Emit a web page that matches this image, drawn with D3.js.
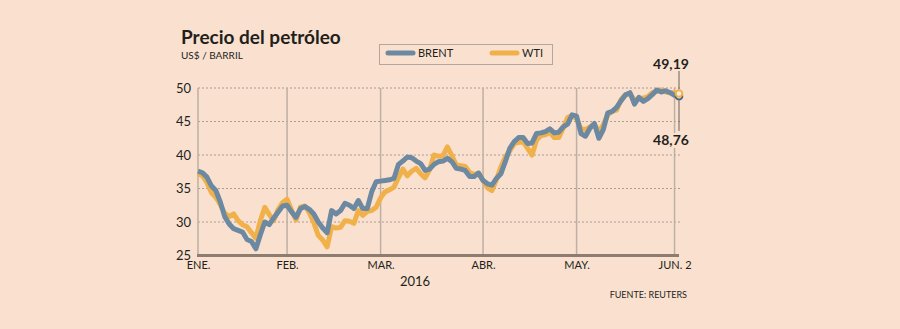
<!DOCTYPE html>
<html>
<head>
<meta charset="utf-8">
<script src="https://cdn.jsdelivr.net/npm/d3@7"></script>
<style>
  html, body { margin: 0; padding: 0; background: #fae1cf; }
  svg { display: block; font-family: Lato, "Open Sans", sans-serif; }
</style>
</head>
<body>
<svg id="chart" width="900" height="329"></svg>
<script>
// trading days (weekdays) from Jan 4 to Jun 2, 2016
const days = d3.timeDay.range(new Date(2016, 0, 4), new Date(2016, 5, 3))
	.filter(d => d.getDay() % 6 !== 0)

const monthLabels = ["ENE.", "FEB.", "MAR.", "ABR.", "MAY.", "JUN. 2"]
const yTicks = [25, 30, 35, 40, 45, 50]

// US$ per barrel, one value per trading day
const brent = [
	37.6, 37.35, 36.7, 35.4, 34.7, 33.0, 30.8, 29.7, 29.0, 28.75,
	28.5, 27.4, 27.1, 26.0, 28.1, 30.0, 29.6, 30.6, 31.5, 32.4,
	32.5, 31.5, 30.7, 32.0, 32.3, 31.9, 31.2, 30.0, 29.1, 28.4,
	31.7, 31.2, 31.7, 32.8, 32.5, 32.0, 33.2, 32.0, 32.0, 34.5,
	36.0, 36.1, 36.2, 36.3, 36.5, 38.6, 39.1, 39.7, 39.6, 39.1,
	38.7, 37.7, 37.9, 38.6, 39.0, 39.1, 39.5, 39.0, 38.0, 37.9,
	37.7, 36.8, 36.8, 37.3, 36.2, 35.7, 35.5, 36.5, 37.2, 39.0,
	41.0, 42.0, 42.6, 42.6, 41.7, 41.8, 43.2, 43.3, 43.5, 43.9,
	43.3, 43.4, 44.2, 44.6, 46.0, 45.8, 43.2, 42.8, 44.0, 44.7,
	42.5, 43.8, 46.3, 46.5, 47.1, 48.1, 49.0, 49.3, 47.6, 48.6,
	48.0, 48.4, 49.0, 49.7, 49.4, 49.6, 49.3, 48.9, 48.76
]
const wti = [
	37.2, 36.9, 35.9, 34.4, 33.7, 32.6, 31.3, 30.8, 31.2, 30.2,
	29.6, 29.3, 28.4, 27.6, 30.2, 32.2, 31.1, 30.2, 31.9, 32.9,
	33.4, 31.8, 30.3, 32.2, 32.4, 31.4, 29.9, 28.0, 27.3, 26.3,
	29.3, 29.1, 29.2, 30.2, 30.1, 29.8, 31.7, 31.0, 31.6, 31.7,
	32.2, 33.6, 34.5, 34.8, 35.2, 36.6, 37.9, 36.9, 37.6, 38.0,
	37.2, 36.6, 37.8, 40.0, 39.8, 39.9, 41.2, 39.9, 38.5, 38.4,
	38.3, 37.4, 37.1, 37.3, 36.2, 35.1, 34.7, 36.3, 38.2, 39.7,
	40.6, 41.7, 41.9, 42.0, 41.0, 40.0, 42.2, 42.9, 43.0, 43.4,
	42.6, 42.6, 44.0, 45.6, 45.9, 45.4, 43.9, 43.8, 44.2, 44.6,
	43.5, 44.5, 46.0, 46.5, 46.7, 48.3, 49.0, 49.1, 48.2, 48.4,
	48.5, 48.7, 49.3, 49.5, 49.7, 49.4, 49.3, 49.3, 49.19
]

const series = [
	{ name: "WTI", values: wti, color: "#f0b14a" },
	{ name: "BRENT", values: brent, color: "#6c89a1" }
]

const svg = d3.select("#chart")
const ink = "#231f1c"

const x = d3.scaleLinear().domain([0, days.length - 1]).range([198, 679])
const y = d3.scaleLinear().domain([25, 50]).range([255.5, 88])

// first trading day of each month gets a gridline
const monthStarts = days
	.map((d, i) => i)
	.filter(i => i === 0 || days[i].getMonth() !== days[i - 1].getMonth())

// title
svg.append("text")
	.attr("x", 181).attr("y", 44)
	.style("font-size", "19px").style("font-weight", "bold")
	.style("fill", ink)
	.text("Precio del petróleo")
svg.append("text")
	.attr("x", 181).attr("y", 59)
	.style("font-size", "10px").style("fill", ink)
	.text("US$ / BARRIL")

// legend
const legend = svg.append("g")
legend.append("rect")
	.attr("x", 379.5).attr("y", 44.5).attr("width", 173).attr("height", 20)
	.style("fill", "none").style("stroke", "#b3a79d")
const legendItems = [
	{ s: series[1], x: 388 },
	{ s: series[0], x: 492 }
]
legendItems.forEach(it => {
	legend.append("line")
		.attr("x1", it.x).attr("x2", it.x + 25)
		.attr("y1", 53).attr("y2", 53)
		.style("stroke", it.s.color).style("stroke-width", 5)
		.style("stroke-linecap", "round")
	legend.append("text")
		.attr("x", it.x + 30).attr("y", 57)
		.style("font-size", "11px").style("fill", ink)
		.text(it.s.name)
})

// horizontal gridlines
svg.append("g").selectAll("line.hgrid")
	.data(yTicks.filter(t => t > 25))
	.enter()
	.append("line")
	.attr("class", "hgrid")
	.attr("x1", x(0)).attr("x2", x(days.length - 1) + 1)
	.attr("y1", d => y(d)).attr("y2", d => y(d))
	.style("stroke", "#a99d94").style("stroke-width", 1)
	.style("stroke-dasharray", "2,2")

// month gridlines
svg.append("g").selectAll("line.vgrid")
	.data(monthStarts)
	.enter()
	.append("line")
	.attr("class", "vgrid")
	.attr("x1", d => x(d)).attr("x2", d => x(d))
	.attr("y1", y(50)).attr("y2", y(25))
	.style("stroke", "#bdafa3").style("stroke-width", 1.5)

// y axis labels
const yAxis = svg.append("g")
	.attr("transform", `translate(${x(0)},0)`)
	.call(d3.axisLeft(y).tickValues(yTicks).tickSize(0).tickPadding(7))
yAxis.select(".domain").remove()
yAxis.selectAll("text")
	.style("font-family", "Lato, sans-serif")
	.style("font-size", "13px").style("fill", ink)

// baseline
svg.append("line")
	.attr("x1", x(0) - 1).attr("x2", x(days.length - 1))
	.attr("y1", y(25)).attr("y2", y(25))
	.style("stroke", "#8d7c70").style("stroke-width", 3)

// x axis labels
const xAxis = svg.append("g")
	.attr("transform", `translate(0,${y(25)})`)
	.call(d3.axisBottom(x)
		.tickValues(monthStarts)
		.tickFormat((d, i) => monthLabels[i])
		.tickSize(0).tickPadding(6))
xAxis.select(".domain").remove()
xAxis.selectAll("text")
	.style("font-family", "Lato, sans-serif")
	.style("font-size", "11px").style("fill", ink)

svg.append("text")
	.attr("x", 415).attr("y", 286)
	.style("text-anchor", "middle")
	.style("font-size", "13px").style("fill", ink)
	.text("2016")

svg.append("text")
	.attr("x", 687).attr("y", 298)
	.style("text-anchor", "end")
	.style("font-size", "9px").style("fill", ink)
	.text("FUENTE: REUTERS")

// price lines
const line = d3.line()
	.x((d, i) => x(i))
	.y(d => y(d))

svg.append("g").selectAll("path.price")
	.data(series)
	.enter()
	.append("path")
	.attr("class", "price")
	.attr("d", d => line(d.values))
	.style("fill", "none")
	.style("stroke", d => d.color)
	.style("stroke-width", 5)
	.style("stroke-linejoin", "round")

// last values
const last = days.length - 1
const lastW = wti[last]
const lastB = brent[last]
const fmt = v => d3.format(".2f")(v).replace(".", ",")

svg.append("line")
	.attr("x1", x(last)).attr("x2", x(last))
	.attr("y1", 71).attr("y2", y(lastW) - 4)
	.style("stroke", "#6b625c").style("stroke-width", 1)
svg.append("line")
	.attr("x1", x(last)).attr("x2", x(last))
	.attr("y1", y(lastB) + 4).attr("y2", 131)
	.style("stroke", "#6b625c").style("stroke-width", 1)

svg.append("rect")
	.attr("x", 652).attr("y", 133).attr("width", 38).attr("height", 15)
	.style("fill", "#fae1cf")

svg.append("text")
	.attr("x", 671).attr("y", 69)
	.style("text-anchor", "middle")
	.style("font-size", "14px").style("font-weight", "bold").style("fill", ink)
	.text(fmt(lastW))
svg.append("text")
	.attr("x", 671).attr("y", 145)
	.style("text-anchor", "middle")
	.style("font-size", "14px").style("font-weight", "bold").style("fill", ink)
	.text(fmt(lastB))

// end markers: Brent underneath, WTI on top
svg.append("circle")
	.attr("cx", x(last)).attr("cy", y(lastB)).attr("r", 3.3)
	.style("fill", "#fdf0e4").style("stroke", "#4f6a80").style("stroke-width", 2)
svg.append("circle")
	.attr("cx", x(last)).attr("cy", y(lastW)).attr("r", 3.3)
	.style("fill", "#fdf0e4").style("stroke", series[0].color).style("stroke-width", 2)
</script>
</body>
</html>
